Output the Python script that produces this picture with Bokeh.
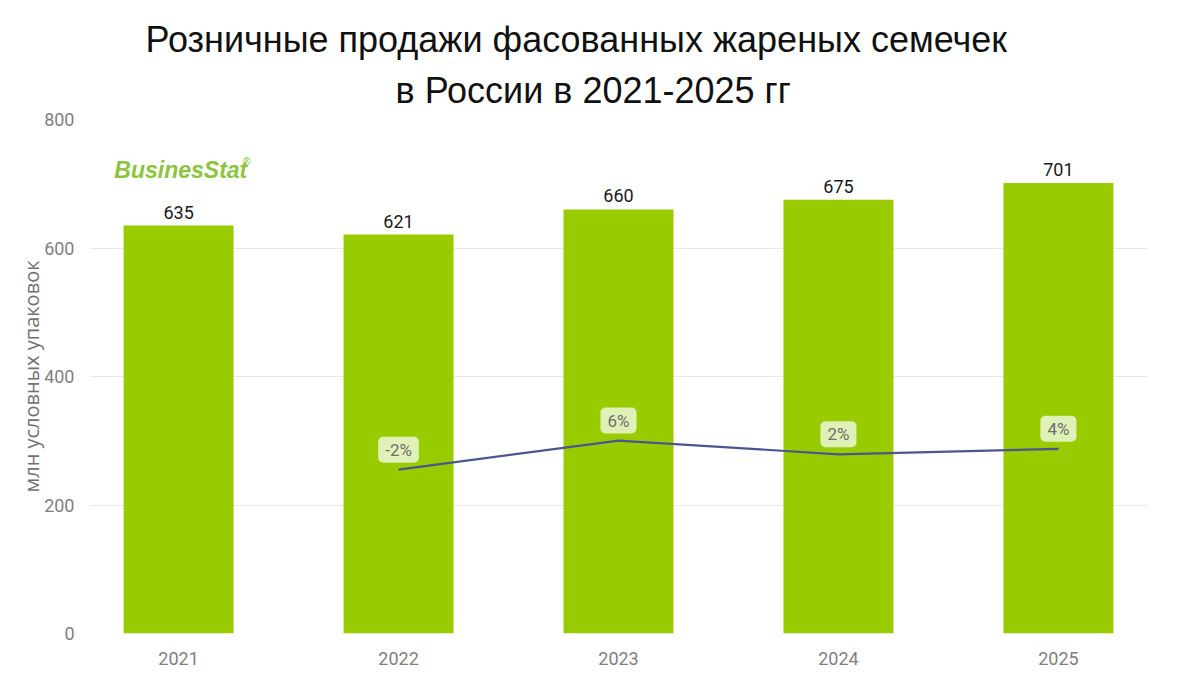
from bokeh.plotting import figure
from bokeh.models import ColumnDataSource, Range1d, FixedTicker, Title, Label
from bokeh.core.properties import value
from bokeh.embed import file_html
from bokeh.resources import INLINE

# ---- data ----
years = ["2021", "2022", "2023", "2024", "2025"]
sales = [635, 621, 660, 675, 701]
growth_years = ["2022", "2023", "2024", "2025"]
growth = [-2.2, 6.3, 2.3, 3.9]
growth_labels = ["-2%", "6%", "2%", "4%"]
y_ticks = [0, 200, 400, 600, 800]

title_line1 = "Розничные продажи фасованных жареных семечек"
title_line2 = "в России в 2021-2025 гг"
y_label = "млн условных упаковок"

BAR = "#99cc00"
LINE = "#4b5590"
GRAY = "#808080"

xs = list(range(len(years)))
gx = [years.index(y) for y in growth_years]

p = figure(width=1164, height=670, output_backend="svg", toolbar_location=None,
           x_range=Range1d(-0.405, 4.405), y_range=Range1d(0, 800),
           min_border_left=89, min_border_right=17, min_border_top=119,
           min_border_bottom=37)
p.title = None
p.outline_line_color = None
p.background_fill_color = "white"
p.border_fill_color = "white"

p.extra_y_ranges = {"g": Range1d(-50, 100)}

src = ColumnDataSource(dict(x=xs, v=sales, t=[str(s) for s in sales]))
p.vbar(x="x", top="v", width=0.5, source=src, fill_color=BAR, line_color=None)
p.text(x="x", y="v", text="t", source=src, y_offset=-7,
       text_align="center", text_baseline="bottom",
       text_font=value("Roboto"), text_font_size="18px", text_color="#1a1a1a",
       text_font_style="normal")

gsrc = ColumnDataSource(dict(x=gx, g=growth, t=growth_labels))
p.line(x="x", y="g", source=gsrc, line_color=LINE, line_width=2.2,
       y_range_name="g")
p.text(x="x", y="g", text="t", source=gsrc, y_range_name="g", y_offset=-20,
       text_align="center", text_baseline="middle",
       text_font=value("Roboto"), text_font_size="17px", text_color="#6e6e6e",
       background_fill_color="#e4f2c2", background_fill_alpha=0.95,
       padding=[7, 3], border_radius=5)

# axes
xa = p.xaxis[0]
xa.ticker = FixedTicker(ticks=xs)
xa.major_label_overrides = {i: y for i, y in enumerate(years)}
xa.axis_line_color = None
xa.major_tick_line_color = None
xa.minor_tick_line_color = None
xa.major_label_standoff = 12
xa.major_label_text_font = "Roboto"
xa.major_label_text_font_size = "18px"
xa.major_label_text_color = GRAY

ya = p.yaxis[0]
ya.ticker = FixedTicker(ticks=y_ticks)
ya.axis_line_color = None
ya.major_tick_line_color = None
ya.minor_tick_line_color = None
ya.major_label_standoff = 9
ya.major_label_text_font = "Roboto"
ya.major_label_text_font_size = "18px"
ya.major_label_text_color = GRAY
ya.axis_label = y_label
ya.axis_label_text_font = "Open Sans"
ya.axis_label_text_font_size = "20px"
ya.axis_label_text_font_style = "normal"
ya.axis_label_text_color = "#707070"
ya.axis_label_standoff = -4

p.xgrid.grid_line_color = None
p.ygrid.grid_line_color = "#e8e8e8"
p.ygrid.grid_line_width = 1

t2 = Title(text=title_line2, align="left", text_font="Liberation Sans",
           text_font_size="36px", text_font_style="normal", text_color="#111111",
           standoff=17, offset=306)
t1 = Title(text=title_line1, align="left", text_font="Liberation Sans",
           text_font_size="36px", text_font_style="normal", text_color="#111111",
           standoff=0, offset=56)
p.add_layout(t2, "above")
p.add_layout(t1, "above")

# logo
p.add_layout(Label(x=0.01, y=722, text="BusinesStat", text_align="center",
                   text_baseline="middle", text_font="Liberation Sans",
                   text_font_size="23px", text_font_style="bold italic",
                   text_color="#8cc43c"))
p.add_layout(Label(x=0.31, y=735, text="®", text_align="center",
                   text_baseline="middle", text_font="Liberation Sans",
                   text_font_size="11px", text_color="#8cc43c"))

open("out.html", "w").write(file_html(p, INLINE))
